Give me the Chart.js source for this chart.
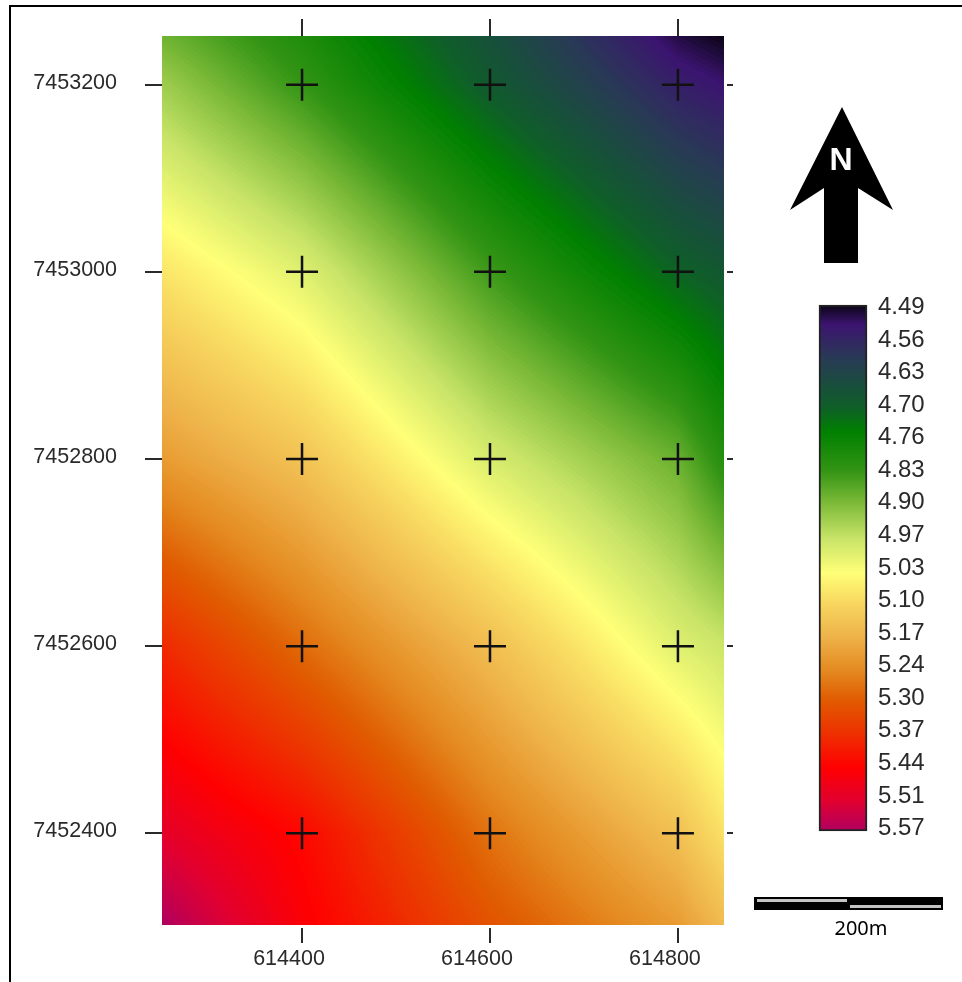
<!DOCTYPE html>
<html>
<head>
<meta charset="utf-8">
<title>Map</title>
<script src="https://cdn.jsdelivr.net/npm/chart.js@4"></script>
<style>
  html, body { margin: 0; padding: 0; background: #fff; width: 962px; height: 982px; overflow: hidden; }
  canvas, svg, #frame { position: absolute; }
  #frame { left: 9px; top: 5px; right: 0; bottom: 0; border-left: 2px solid #000; border-top: 2px solid #000; }
  #mapChart { left: 0; top: 0; }
  #legendChart { left: 800px; top: 295px; }
  svg { left: 0; top: 0; }
</style>
</head>
<body>
<div id="frame"></div>
<canvas id="mapChart" width="962" height="982"></canvas>
<canvas id="legendChart" width="162" height="560"></canvas>
<svg width="962" height="982">
  <polygon points="842,107 893,210 858,188 858,263 824,263 824,188 790,210" fill="#000"/>
  <text x="841" y="170" fill="#fff" font-family="Liberation Sans" font-weight="bold" font-size="32" text-anchor="middle">N</text>
  <rect x="754" y="897" width="189" height="13" fill="#000"/>
  <rect x="757" y="899" width="90" height="3" fill="#c4c4c4"/>
  <rect x="850" y="905" width="91" height="3" fill="#c4c4c4"/>
  <text x="861" y="935" fill="#000" font-family="Noto Sans" font-size="20" text-anchor="middle">200m</text>
</svg>
<script>
// AXIS TICKS
const xTicks = [614400, 614600, 614800];
const yTicks = [7453200, 7453000, 7452800, 7452600, 7452400];

// MAP EXTENT
const xMin = 614251, xMax = 614849;
const yMin = 7452302, yMax = 7453252;

// FIELD (rows follow fieldY, columns follow fieldX)
const fieldX = [614251, 614400, 614600, 614800, 614849];
const fieldY = [7453252, 7453200, 7453000, 7452800, 7452600, 7452400, 7452302];
const fieldValues = [
  [4.885, 4.80, 4.66, 4.51, 4.49],
  [4.93, 4.83, 4.685, 4.55, 4.53],
  [5.08, 5.00, 4.84, 4.705, 4.68],
  [5.21, 5.14, 4.99, 4.88, 4.81],
  [5.38, 5.28, 5.15, 5.00, 4.975],
  [5.50, 5.43, 5.27, 5.145, 5.085],
  [5.57, 5.45, 5.315, 5.21, 5.155],
];

// COLOUR BAR
const legendLabels = ["4.49", "4.56", "4.63", "4.70", "4.76", "4.83", "4.90", "4.97", "5.03",
                      "5.10", "5.17", "5.24", "5.30", "5.37", "5.44", "5.51", "5.57"];
const legendMin = 4.49, legendMax = 5.57, legendStep = 0.06685;
const rampValues = [4.49, 4.53, 4.60, 4.66, 4.70, 4.75, 4.83, 4.90, 4.97, 5.04, 5.10, 5.17, 5.24, 5.30, 5.37, 5.44, 5.51, 5.57];
const rampColors = ["#0a0414", "#3c1470", "#283a55", "#17503a", "#0f5f28", "#008000", "#339414", "#80bc3a", "#c8e468",
                    "#ffff78", "#f8d860", "#eeb34a", "#e48a20", "#e05c00", "#ee3000", "#ff0000", "#e00030", "#b00060"];

const tickFont = { family: "Liberation Sans", size: 21.5 };
const tickColor = "#2a2a2a";

function hexToRgb(hex) {
  return [1, 3, 5].map((i) => parseInt(hex.slice(i, i + 2), 16));
}
const rampRgb = rampColors.map(hexToRgb);

function colorAt(v) {
  // stepped a little, the source raster shows faint bands
  v = Math.round(v * 250) / 250;
  if (v <= rampValues[0]) return rampRgb[0];
  for (let i = 1; i < rampValues.length; i++) {
    if (v <= rampValues[i]) {
      const t = (v - rampValues[i - 1]) / (rampValues[i] - rampValues[i - 1]);
      return rampRgb[i].map((c, k) => rampRgb[i - 1][k] + (c - rampRgb[i - 1][k]) * t);
    }
  }
  return rampRgb[rampRgb.length - 1];
}

function findCell(list, v) {
  for (let i = 0; i < list.length - 2; i++) {
    const a = list[i], b = list[i + 1];
    if ((v - a) * (v - b) <= 0) return i;
  }
  return list.length - 2;
}

function fieldAt(x, y) {
  const c = findCell(fieldX, x), r = findCell(fieldY, y);
  const tx = (x - fieldX[c]) / (fieldX[c + 1] - fieldX[c]);
  const ty = (y - fieldY[r]) / (fieldY[r + 1] - fieldY[r]);
  const top = fieldValues[r][c] * (1 - tx) + fieldValues[r][c + 1] * tx;
  const bottom = fieldValues[r + 1][c] * (1 - tx) + fieldValues[r + 1][c + 1] * tx;
  return top * (1 - ty) + bottom * ty;
}

// paints the field under the crosses, through the chart's own scales
const fieldPlugin = {
  id: "field",
  beforeDatasetsDraw(chart) {
    const { ctx, chartArea, scales } = chart;
    const w = Math.round(chartArea.right - chartArea.left);
    const h = Math.round(chartArea.bottom - chartArea.top);
    const img = ctx.createImageData(w, h);
    for (let j = 0; j < h; j++) {
      const dataY = scales.y.getValueForPixel(chartArea.top + j + 0.5);
      for (let i = 0; i < w; i++) {
        const dataX = scales.x.getValueForPixel(chartArea.left + i + 0.5);
        const rgb = colorAt(fieldAt(dataX, dataY));
        const p = (j * w + i) * 4;
        img.data[p] = rgb[0];
        img.data[p + 1] = rgb[1];
        img.data[p + 2] = rgb[2];
        img.data[p + 3] = 255;
      }
    }
    ctx.putImageData(img, Math.round(chartArea.left), Math.round(chartArea.top));
  },
};

// crosses on every grid point
const crossPoints = [];
yTicks.forEach((y) => xTicks.forEach((x) => crossPoints.push({ x, y })));

function setTicks(list) {
  return (scale) => { scale.ticks = list.map((value) => ({ value })); };
}

// fixed axis size, and no extra room for labels hanging past the ends
function fixSize(prop, size) {
  return (scale) => {
    scale[prop] = size;
    scale.paddingTop = 0;
    scale.paddingBottom = 0;
    scale.paddingLeft = 0;
    scale.paddingRight = 0;
  };
}

new Chart(document.getElementById("mapChart"), {
  type: "scatter",
  data: {
    datasets: [
      {
        data: crossPoints,
        pointStyle: "cross",
        pointRadius: 16,
        pointBorderWidth: 2.5,
        pointBorderColor: "#111111",
        showLine: false,
      },
    ],
  },
  options: {
    responsive: false,
    animation: false,
    layout: { padding: 0 },
    plugins: { legend: { display: false }, tooltip: { enabled: false } },
    scales: {
      x: {
        type: "linear", position: "bottom", min: xMin, max: xMax,
        afterBuildTicks: setTicks(xTicks),
        afterFit: fixSize("height", 57),
        border: { display: false },
        grid: { drawOnChartArea: false, color: tickColor, lineWidth: 2, tickLength: 18, tickBorderDash: [0, 3, 15, 0] },
        ticks: { font: tickFont, color: tickColor, maxRotation: 0, autoSkip: false, padding: 3, labelOffset: -13, callback: (v) => String(v) },
      },
      xTop: {
        type: "linear", position: "top", min: xMin, max: xMax,
        afterBuildTicks: setTicks(xTicks),
        afterFit: fixSize("height", 36),
        border: { display: false },
        grid: { drawOnChartArea: false, color: tickColor, lineWidth: 2, tickLength: 17 },
        ticks: { display: false },
      },
      y: {
        type: "linear", position: "left", min: yMin, max: yMax,
        afterBuildTicks: setTicks(yTicks),
        afterFit: fixSize("width", 162),
        border: { display: false },
        grid: { drawOnChartArea: false, color: tickColor, lineWidth: 2, tickLength: 17 },
        ticks: { font: tickFont, color: tickColor, autoSkip: false, padding: 28, labelOffset: -2, callback: (v) => String(v) },
      },
      yRight: {
        type: "linear", position: "right", min: yMin, max: yMax,
        afterBuildTicks: setTicks(yTicks),
        afterFit: fixSize("width", 238),
        border: { display: false },
        grid: { drawOnChartArea: false, color: tickColor, lineWidth: 2, tickLength: 9, tickBorderDash: [0, 3, 6, 0] },
        ticks: { display: false },
      },
    },
  },
  plugins: [fieldPlugin],
});

// ========== COLOUR BAR ==========
function legendGradient(context) {
  const { chart } = context;
  if (!chart.chartArea) return "#000";
  const scale = chart.scales.y;
  const g = chart.ctx.createLinearGradient(0, scale.getPixelForValue(legendMin), 0, scale.getPixelForValue(legendMax));
  rampValues.forEach((v, i) => g.addColorStop((v - legendMin) / (legendMax - legendMin), rampColors[i]));
  return g;
}

new Chart(document.getElementById("legendChart"), {
  type: "bar",
  data: {
    labels: [""],
    datasets: [
      {
        data: [[legendMin, legendMax]],
        backgroundColor: legendGradient,
        borderColor: "#222222",
        borderWidth: 2,
        borderSkipped: false,
        barPercentage: 1,
        categoryPercentage: 1,
        clip: false,
      },
    ],
  },
  options: {
    responsive: false,
    animation: false,
    layout: { padding: { left: 19, top: 10, bottom: 24, right: 0 } },
    plugins: { legend: { display: false }, tooltip: { enabled: false } },
    scales: {
      x: { display: false },
      y: {
        type: "linear", position: "right", reverse: true, min: legendMin, max: legendMax,
        afterBuildTicks: (scale) => {
          scale.ticks = legendLabels.map((_, i) => ({ value: legendMin + i * legendStep }));
        },
        afterFit: fixSize("width", 95),
        border: { display: false },
        grid: { display: false, drawTicks: false },
        ticks: { font: { family: "Liberation Sans", size: 24 }, color: tickColor, autoSkip: false, padding: 11, labelOffset: 2.5, callback: (v, i) => legendLabels[i] },
      },
    },
  },
});
</script>
</body>
</html>
